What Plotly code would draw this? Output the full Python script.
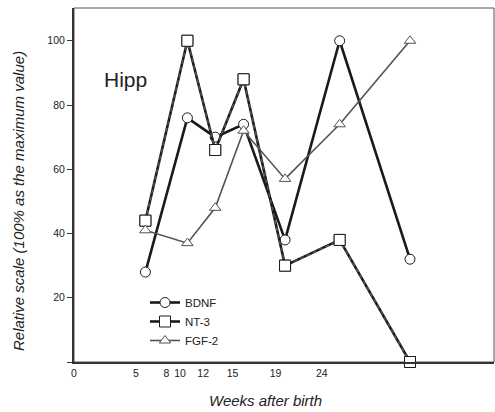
import plotly.graph_objects as go

# x positions of sampling points (weeks, on the chart's own x scale)
weeks = [6.8, 10.8, 13.45, 16.15, 20.1, 25.3, 32.0]
bdnf = [28, 76, 70, 74, 38, 100, 32]
nt3 = [44, 100, 66, 88, 30, 38, 0]
fgf2 = [41, 37, 48, 72, 57, 74, 100]

x_tick_vals = [0, 5.9, 8.8, 10.1, 12.3, 15.1, 19.2, 23.6]
x_tick_text = ["0", "5", "8", "10", "12", "15", "19", "24"]
y_tick_vals = [0, 20, 40, 60, 80, 100]
y_tick_text = ["", "20", "40", "60", "80", "100"]

W, H = 495, 412
L, R, T, B = 74, 1, 8, 50
PW, PH = W - L - R, H - T - B

def px_x(p):
    return (p - L) / PW

def px_y(p):
    return 1 - (p - T) / PH

fig = go.Figure()

fig.add_trace(go.Scatter(
    x=weeks, y=bdnf, name="BDNF", mode="lines+markers",
    line=dict(color="#1a1a1a", width=2.6),
    marker=dict(symbol="circle", size=10, color="white",
                line=dict(color="#1a1a1a", width=1)),
    cliponaxis=False,
))
fig.add_trace(go.Scatter(
    x=weeks, y=nt3, name="NT-3", mode="lines+markers",
    line=dict(color="#1a1a1a", width=2.6),
    marker=dict(symbol="square", size=11, color="white",
                line=dict(color="#1a1a1a", width=1)),
    cliponaxis=False,
))
fig.add_trace(go.Scatter(
    x=weeks, y=nt3, name="NT-3 dash", mode="lines", showlegend=False,
    line=dict(color="#555555", width=1.5, dash="4px,3px"),
    cliponaxis=False, hoverinfo="skip",
))
fig.add_trace(go.Scatter(
    x=weeks, y=nt3, mode="markers", showlegend=False,
    marker=dict(symbol="square", size=11, color="white",
                line=dict(color="#1a1a1a", width=1)),
    cliponaxis=False, hoverinfo="skip",
))
fig.add_trace(go.Scatter(
    x=weeks, y=fgf2, name="FGF-2", mode="lines+markers",
    line=dict(color="#4d5555", width=1.6),
    marker=dict(symbol="triangle-up", size=10, color="white",
                line=dict(color="#4d5555", width=1)),
    cliponaxis=False,
))

fig.add_annotation(
    text="Hipp", xref="paper", yref="paper",
    x=px_x(102), y=px_y(79),
    xanchor="left", yanchor="middle", showarrow=False,
    font=dict(family="Liberation Sans", size=21, color="#222222"),
)
title_font = dict(family="Liberation Sans", size=15, color="#222222")
fig.add_annotation(
    text="<i>Weeks after birth</i>", xref="paper", yref="paper",
    x=px_x(265), y=px_y(400), xanchor="center", yanchor="middle",
    showarrow=False, font=title_font,
)
fig.add_annotation(
    text="<i>Relative scale (100% as the maximum value)</i>", xref="paper", yref="paper",
    x=px_x(18), y=px_y(201), xanchor="center", yanchor="middle",
    showarrow=False, font=title_font, textangle=-90,
)

# thin frame on top/right
fig.add_shape(type="rect", xref="paper", yref="paper", x0=0, y0=0, x1=1, y1=1,
              line=dict(color="#555555", width=1), layer="below")

tick_font = dict(family="Liberation Sans", size=10.5, color="#222222")

fig.update_layout(
    width=W, height=H,
    margin=dict(l=L, r=R, t=T, b=B, autoexpand=False),
    paper_bgcolor="white", plot_bgcolor="white",
    showlegend=True,
    legend=dict(
        x=px_x(145), y=px_y(288),
        xanchor="left", yanchor="top",
        font=dict(family="Liberation Sans", size=11.5, color="#222222"),
        bgcolor="rgba(0,0,0,0)", tracegroupgap=0, itemwidth=30,
    ),
    xaxis=dict(
        range=[0, 40], tickvals=x_tick_vals, ticktext=x_tick_text,
        showgrid=False, zeroline=False, showline=True, automargin=False,
        linecolor="#333333", linewidth=2, ticks="", tickfont=tick_font,
    ),
    yaxis=dict(
        range=[0, 110.2], tickvals=y_tick_vals, ticktext=y_tick_text,
        showgrid=False, zeroline=False, showline=True, automargin=False,
        linecolor="#333333", linewidth=2, ticks="outside", ticklen=5,
        tickcolor="#333333", tickfont=tick_font,
    ),
)

fig.write_html(
    "out.html",
    config={"displayModeBar": False},
    post_script="document.body.style.margin='0';document.body.style.overflow='hidden';",
)
